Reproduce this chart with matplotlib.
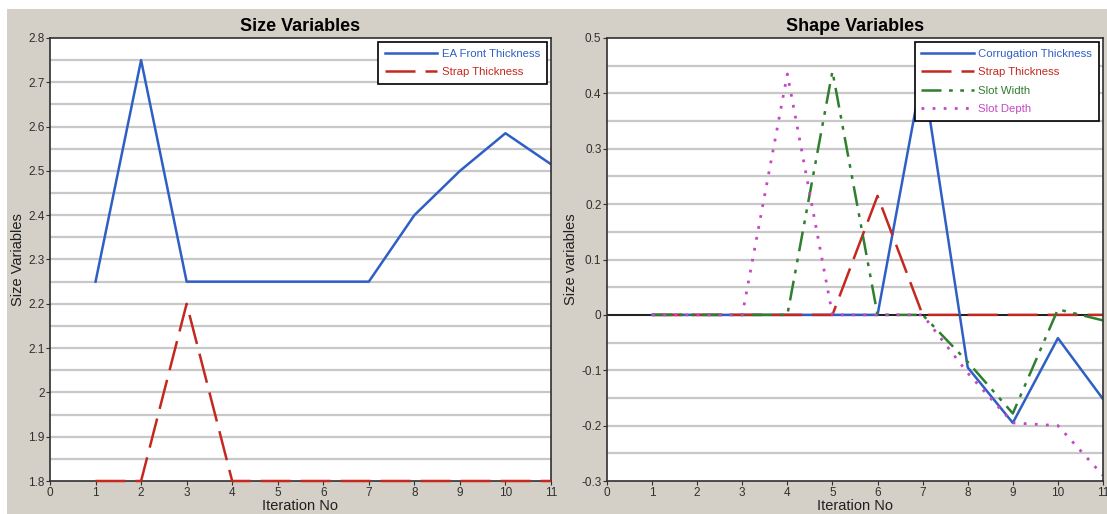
import numpy as np
import matplotlib
matplotlib.use("Agg")
import matplotlib.pyplot as plt
from matplotlib.patches import Rectangle
from matplotlib.ticker import MultipleLocator, FuncFormatter

plt.rcParams['font.family'] = ['Liberation Sans', 'DejaVu Sans']

# data
iterations = [1, 2, 3, 4, 5, 6, 7, 8, 9, 10, 11]

ea_front = [2.25, 2.75, 2.25, 2.25, 2.25, 2.25, 2.25, 2.40, 2.50, 2.585, 2.515]
strap_size = [1.8, 1.8, 2.2, 1.8, 1.8, 1.8, 1.8, 1.8, 1.8, 1.8, 1.8]

corrugation = [0, 0, 0, 0, 0, 0, 0.44, -0.095, -0.195, -0.042, -0.152]
strap_shape = [0, 0, 0, 0, 0, 0.215, 0, 0, 0, 0, 0]
slot_width = [0, 0, 0, 0, 0.44, 0, 0, -0.085, -0.178, 0.01, -0.01]
slot_depth = [0, 0, 0, 0.435, 0, 0, 0, -0.105, -0.195, -0.2, -0.29]

x_ticks = list(range(0, 12))

BLUE = '#2f5fc4'
RED = '#c4281e'
GREEN = '#2f7f2f'
MAGENTA = '#c448c4'
GRAY_BG = '#d4d0c8'

fig = plt.figure(figsize=(11.07, 5.14), dpi=100)
fig.patch.set_facecolor('white')
fig.patches.append(Rectangle((7 / 1107, 0), 1, 1 - 9 / 514, transform=fig.transFigure,
                             facecolor=GRAY_BG, edgecolor='none', zorder=-10))

ax1 = fig.add_axes([50 / 1107, 1 - 481 / 514, 501 / 1107, 443 / 514])
ax2 = fig.add_axes([607 / 1107, 1 - 481 / 514, 496 / 1107, 443 / 514])

fmt = FuncFormatter(lambda v, p: '%g' % round(v, 3))


def style_axes(ax, ylo, yhi):
    ax.set_facecolor('white')
    ax.set_xlim(0, 11)
    ax.set_ylim(ylo, yhi)
    ax.set_xticks(x_ticks)
    ax.yaxis.set_major_locator(MultipleLocator(0.1))
    ax.yaxis.set_major_formatter(fmt)
    for y in np.arange(ylo + 0.05, yhi - 0.01, 0.05):
        ax.axhline(y, color='#c8c8c8', linewidth=1.6, zorder=0)
    for s in ax.spines.values():
        s.set_color('#303030')
        s.set_linewidth(1.2)
    ax.tick_params(direction='out', length=3, width=0.8, colors='#303030',
                   labelsize=8.5, pad=1)
    ax.set_xlabel('Iteration No', fontsize=10.5, labelpad=0, color='#202020')


# left: size variables
ax1.plot(iterations, ea_front, color=BLUE, linewidth=1.8, label='EA Front Thickness')
ax1.plot(iterations, strap_size, color=RED, linewidth=1.8, dashes=(12, 4),
         label='Strap Thickness', clip_on=False, zorder=3)
style_axes(ax1, 1.8, 2.8)
ax1.set_title('Size Variables', fontsize=13, fontweight='bold', pad=5)
ax1.set_ylabel('Size Variables', fontsize=10.5, labelpad=2, color='#202020')

# right: shape variables
ax2.axhline(0, color='black', linewidth=1.2, zorder=1)
ax2.plot(iterations, corrugation, color=BLUE, linewidth=1.8, label='Corrugation Thickness')
ax2.plot(iterations, strap_shape, color=RED, linewidth=1.8, dashes=(12, 4),
         label='Strap Thickness')
ax2.plot(iterations, slot_width, color=GREEN, linewidth=1.8, dashes=(8, 3, 1.5, 3, 1.5, 3),
         label='Slot Width')
ax2.plot(iterations, slot_depth, color=MAGENTA, linewidth=2, dashes=(1, 3),
         label='Slot Depth')
style_axes(ax2, -0.3, 0.5)
ax2.set_title('Shape Variables', fontsize=13, fontweight='bold', pad=5)
ax2.set_ylabel('Size variables', fontsize=10.5, labelpad=2, color='#202020')

for ax in (ax1, ax2):
    leg = ax.legend(loc='upper right', prop={'size': 8.2}, frameon=True, fancybox=False,
                    borderaxespad=0.35, handlelength=4.6, handletextpad=0.4,
                    labelspacing=0.75, borderpad=0.6)
    leg.get_frame().set_edgecolor('black')
    leg.get_frame().set_linewidth(1.2)
    leg.get_frame().set_alpha(1)
    leg.set_zorder(10)
    for line, text in zip(leg.get_lines(), leg.get_texts()):
        text.set_color(line.get_color())

plt.savefig('out.png', dpi=100)
